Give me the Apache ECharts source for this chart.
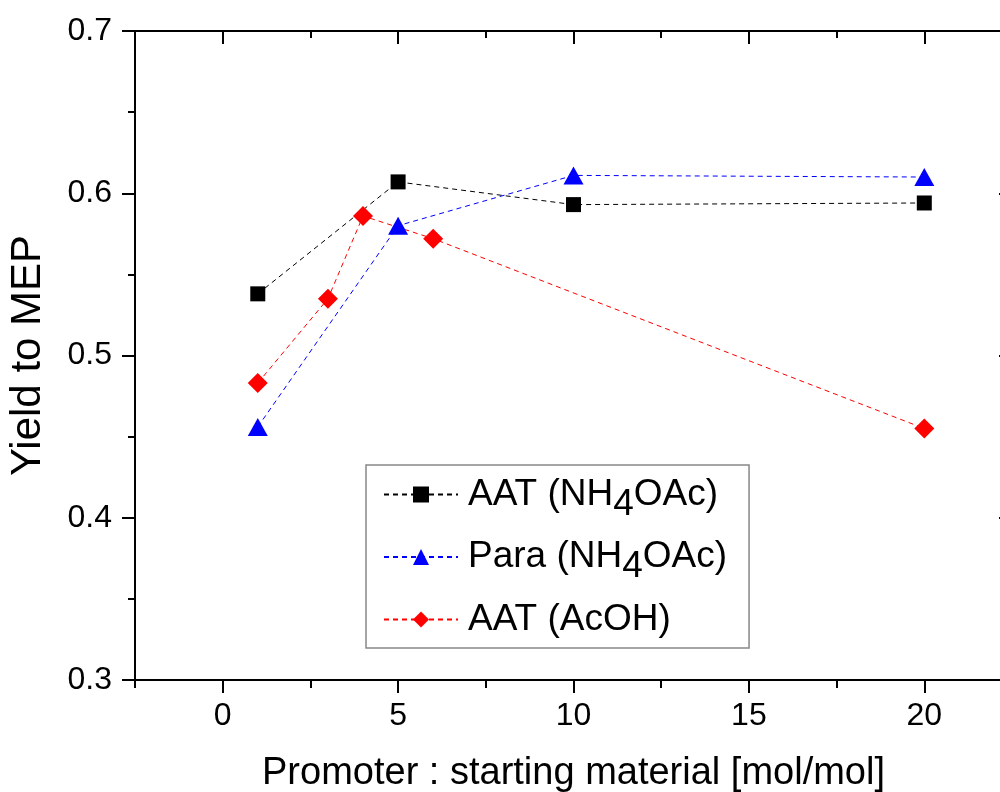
<!DOCTYPE html>
<html>
<head>
<meta charset="utf-8">
<script src="https://cdn.jsdelivr.net/npm/echarts@6/dist/echarts.min.js"></script>
<style>
  html, body { margin: 0; padding: 0; background: #fff; }
  #chart { width: 1000px; height: 792px; }
</style>
</head>
<body>
<div id="chart"></div>
<script>
// ---- data ----
const seriesNames = ['AAT (NH4OAc)', 'Para (NH4OAc)', 'AAT (AcOH)'];
const aatNhX = [1, 5, 10, 20];
const aatNhY = [0.538, 0.607, 0.593, 0.594];
const paraX = [1, 5, 10, 20];
const paraY = [0.456, 0.580, 0.611, 0.610];
const aatAcX = [1, 3, 4, 6, 20];
const aatAcY = [0.483, 0.535, 0.586, 0.572, 0.455];
const xMajorTicks = [0, 5, 10, 15, 20];
const xMinorTicks = [-2.5, 2.5, 7.5, 12.5, 17.5, 22.5];
const xTitle = 'Promoter : starting material [mol/mol]';
const yTitle = 'Yield to MEP';

const FONT = '"Liberation Sans", Arial, sans-serif';
const zip = (xs, ys) => xs.map((x, i) => [x, ys[i]]);

const legendFmt = {
  'AAT (NH4OAc)': '{f|AAT (NH}{s|4}{n|OAc)}',
  'Para (NH4OAc)': '{f|Para (NH}{s|4}{n|OAc)}',
  'AAT (AcOH)': '{f|AAT (AcOH)}{s| }'
};

const baseTok = { fontSize: 37, fontFamily: FONT, color: '#000', verticalAlign: 'middle' };

const chart = echarts.init(document.getElementById('chart'), null, { renderer: 'canvas' });

const axisLine = { show: true, onZero: false, lineStyle: { color: '#000', width: 2 } };
const tickStyle = { color: '#000', width: 2 };

function xAx(position, values, len, inside, labels, extra) {
  return Object.assign({
    type: 'value', gridIndex: 0, position: position,
    min: -2.5, max: 22.5,
    axisLine: axisLine,
    axisTick: { show: true, inside: inside, length: len, lineStyle: tickStyle, customValues: values },
    axisLabel: labels ? { show: true, customValues: values, fontSize: 32, fontFamily: FONT, color: '#000', margin: 20 } : { show: false },
    splitLine: { show: false }
  }, extra || {});
}

const option = {
  backgroundColor: '#fff',
  animation: false,
  grid: { left: 135, top: 31, right: -12, bottom: 112, outerBoundsMode: 'none', containLabel: false },
  legend: {
    orient: 'vertical',
    left: 366, top: 465,
    padding: [11, 22, 0, 17],
    itemGap: 15.5,
    itemWidth: 74, itemHeight: 20,
    borderColor: '#888', borderWidth: 1.5,
    data: seriesNames,
    formatter: n => legendFmt[n],
    textStyle: {
      fontSize: 37, fontFamily: FONT, color: '#000',
      rich: {
        f: Object.assign({}, baseTok, { padding: [0, 0, 0, 5] }),
        n: Object.assign({}, baseTok),
        s: Object.assign({}, baseTok, { padding: [20, 0, 0, 0] })
      }
    }
  },
  xAxis: [
    xAx('bottom', xMajorTicks, 13, false, true, {
      name: xTitle, nameLocation: 'middle', nameGap: 75,
      nameTextStyle: { fontSize: 38, fontFamily: FONT, color: '#000' }
    }),
    xAx('bottom', xMinorTicks, 8, false, false),
    xAx('top', xMajorTicks, 13, true, false),
    xAx('top', xMinorTicks, 7, true, false)
  ],
  yAxis: [
    {
      type: 'value', position: 'left', min: 0.3, max: 0.7, interval: 0.1,
      axisLine: axisLine,
      axisTick: { show: true, inside: false, length: 13, lineStyle: tickStyle },
      minorTick: { show: true, splitNumber: 2, length: 7, lineStyle: tickStyle },
      axisLabel: { fontSize: 32, fontFamily: FONT, color: '#000', margin: 23, formatter: v => v.toFixed(1) },
      splitLine: { show: false }, minorSplitLine: { show: false },
      name: yTitle, nameLocation: 'middle', nameGap: 86, nameRotate: 90,
      nameTextStyle: { fontSize: 42, fontFamily: FONT, color: '#000' }
    },
    {
      type: 'value', position: 'right', min: 0.3, max: 0.7, interval: 0.1,
      axisLine: axisLine,
      axisTick: { show: true, inside: true, length: 13, lineStyle: tickStyle },
      minorTick: { show: true, splitNumber: 2, length: 7, lineStyle: tickStyle },
      axisLabel: { show: false },
      splitLine: { show: false }, minorSplitLine: { show: false }
    }
  ],
  series: [
    {
      name: seriesNames[0], type: 'line', xAxisIndex: 0, yAxisIndex: 0,
      data: zip(aatNhX, aatNhY),
      symbol: 'rect', symbolSize: 15,
      itemStyle: { color: '#000' },
      lineStyle: { color: '#000', width: 1, type: [5, 4] }
    },
    {
      name: seriesNames[1], type: 'line', xAxisIndex: 0, yAxisIndex: 0,
      data: zip(paraX, paraY),
      symbol: 'triangle', symbolSize: [20, 18],
      itemStyle: { color: '#0000ff' },
      lineStyle: { color: '#0000ff', width: 1, type: [5, 4] }
    },
    {
      name: seriesNames[2], type: 'line', xAxisIndex: 0, yAxisIndex: 0,
      data: zip(aatAcX, aatAcY),
      symbol: 'diamond', symbolSize: 20,
      itemStyle: { color: '#ff0000' },
      lineStyle: { color: '#ff0000', width: 1, type: [5, 4] }
    }
  ]
};

chart.setOption(option);
</script>
</body>
</html>
